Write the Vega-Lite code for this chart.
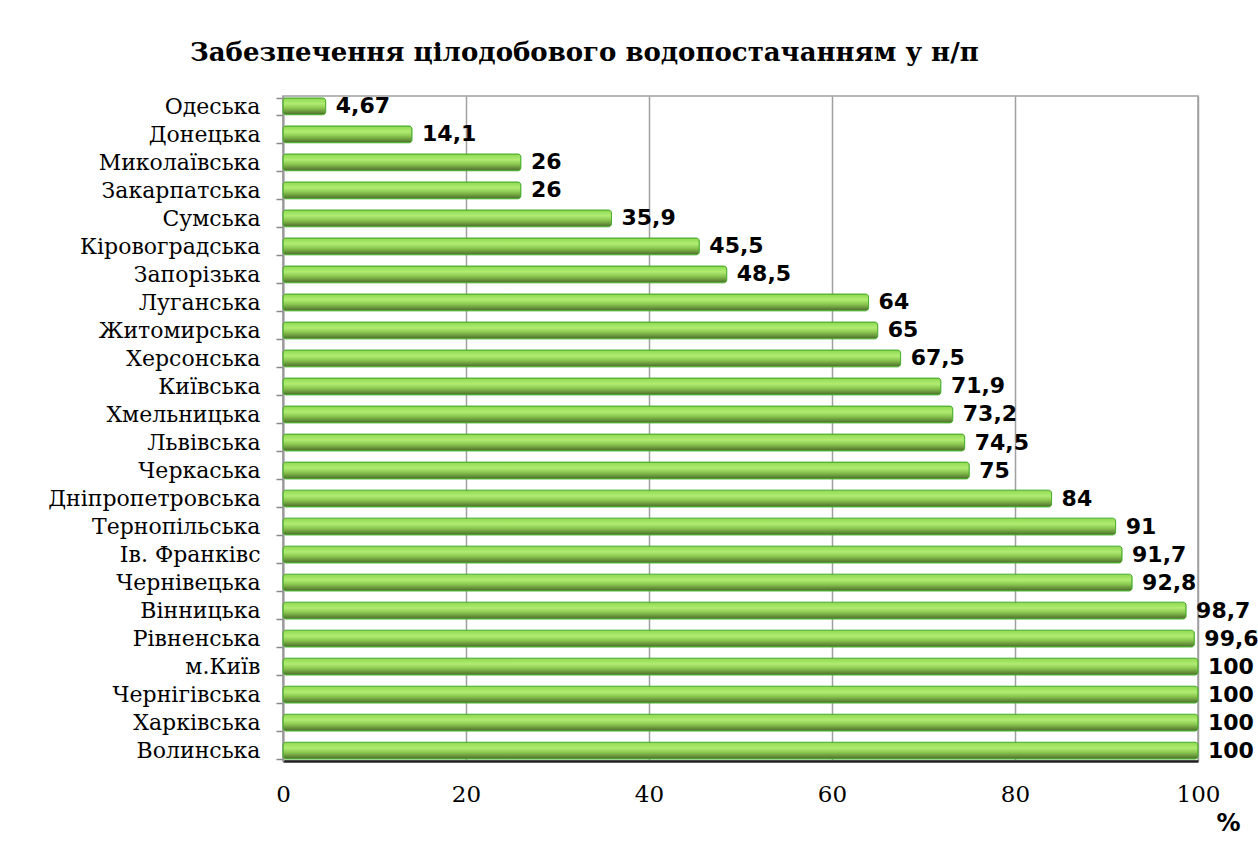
{
  "$schema": "https://vega.github.io/schema/vega-lite/v6.json",
  "width": 915,
  "height": 665,
  "autosize": "none",
  "padding": {"left": 283, "top": 96, "right": 60, "bottom": 80},
  "background": "white",
  "title": {
    "text": "Забезпечення цілодобового водопостачанням у н/п",
    "anchor": "start",
    "frame": "group",
    "dx": -93,
    "offset": 19,
    "font": "DejaVu Serif",
    "fontSize": 26,
    "fontWeight": "bold",
    "color": "#000000"
  },
  "data": {
    "values": [
      {"region": "Одеська", "value": 4.67, "label": "4,67"},
      {"region": "Донецька", "value": 14.1, "label": "14,1"},
      {"region": "Миколаївська", "value": 26, "label": "26"},
      {"region": "Закарпатська", "value": 26, "label": "26"},
      {"region": "Сумська", "value": 35.9, "label": "35,9"},
      {"region": "Кіровоградська", "value": 45.5, "label": "45,5"},
      {"region": "Запорізька", "value": 48.5, "label": "48,5"},
      {"region": "Луганська", "value": 64, "label": "64"},
      {"region": "Житомирська", "value": 65, "label": "65"},
      {"region": "Херсонська", "value": 67.5, "label": "67,5"},
      {"region": "Київська", "value": 71.9, "label": "71,9"},
      {"region": "Хмельницька", "value": 73.2, "label": "73,2"},
      {"region": "Львівська", "value": 74.5, "label": "74,5"},
      {"region": "Черкаська", "value": 75, "label": "75"},
      {"region": "Дніпропетровська", "value": 84, "label": "84"},
      {"region": "Тернопільська", "value": 91, "label": "91"},
      {"region": "Ів. Франківс", "value": 91.7, "label": "91,7"},
      {"region": "Чернівецька", "value": 92.8, "label": "92,8"},
      {"region": "Вінницька", "value": 98.7, "label": "98,7"},
      {"region": "Рівненська", "value": 99.6, "label": "99,6"},
      {"region": "м.Київ", "value": 100, "label": "100"},
      {"region": "Чернігівська", "value": 100, "label": "100"},
      {"region": "Харківська", "value": 100, "label": "100"},
      {"region": "Волинська", "value": 100, "label": "100"}
    ]
  },
  "encoding": {
    "y": {
      "field": "region",
      "type": "nominal",
      "sort": null,
      "scale": {"paddingInner": 0.4, "paddingOuter": 0.07},
      "axis": {
        "title": null,
        "labelFont": "DejaVu Serif",
        "labelFontSize": 22,
        "labelColor": "#000000",
        "labelPadding": 16,
        "labelLimit": 400,
        "domainColor": "#999999",
        "domainWidth": 2,
        "ticks": true,
        "tickBand": "extent",
        "tickColor": "#888888",
        "tickSize": 7,
        "tickWidth": 1.5
      }
    }
  },
  "layer": [
    {
      "mark": {
        "type": "bar",
        "cornerRadius": 3,
        "stroke": "#4caf30",
        "strokeWidth": 1,
        "color": {
          "gradient": "linear",
          "x1": 0, "y1": 0, "x2": 0, "y2": 1,
          "stops": [
            {"offset": 0, "color": "#8fd850"},
            {"offset": 0.35, "color": "#b0ec72"},
            {"offset": 0.6, "color": "#8cc850"},
            {"offset": 1, "color": "#4a6a2a"}
          ]
        }
      },
      "encoding": {
        "x": {
          "field": "value",
          "type": "quantitative",
          "scale": {"domain": [0, 100], "nice": false},
          "axis": {
            "values": [0, 20, 40, 60, 80, 100],
            "title": "%",
            "titleFont": "DejaVu Sans",
            "titleFontSize": 24,
            "titleFontWeight": "bold",
            "titleColor": "#000000",
            "titleAlign": "center",
            "titleBaseline": "top",
            "titleX": 945,
            "titleY": 50,
            "labelFont": "DejaVu Serif",
            "labelFontSize": 23,
            "labelColor": "#000000",
            "labelPadding": 22,
            "labelFlush": false,
            "grid": true,
            "gridColor": "#a0a0a0",
            "gridWidth": 1.5,
            "domainColor": "#222222",
            "domainWidth": 2.5,
            "ticks": false
          }
        }
      }
    },
    {
      "mark": {
        "type": "text",
        "align": "left",
        "baseline": "middle",
        "dx": 10,
        "font": "DejaVu Sans",
        "fontSize": 22,
        "fontWeight": "bold",
        "color": "#000000",
        "clip": false
      },
      "encoding": {
        "x": {"field": "value", "type": "quantitative"},
        "text": {"field": "label"}
      }
    }
  ],
  "config": {
    "view": {"stroke": "#a0a0a0", "strokeWidth": 1.5}
  }
}
